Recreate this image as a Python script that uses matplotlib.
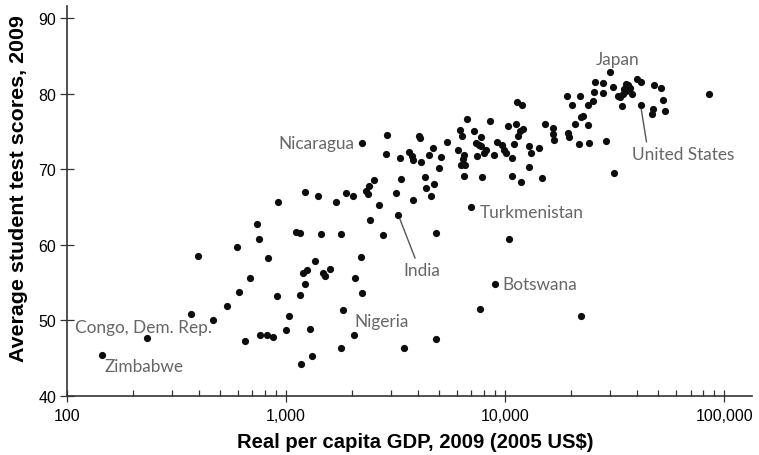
import numpy as np
import matplotlib
matplotlib.use("Agg")
import matplotlib.pyplot as plt

# Real per capita GDP, 2009 (2005 US$) and average student test scores
gdp = [
    145, 231, 369, 396, 462, 537, 596, 611, 648, 685,
    737, 754, 757, 817, 829, 874, 905, 918, 1000, 1035,
    1114, 1153, 1153, 1171, 1193, 1214, 1244, 1217, 1280, 1314,
    1349, 1400, 1448, 1468, 1503, 1580, 1687, 1774, 1774, 1817,
    1875, 2013, 2037, 2065, 2199, 2207, 2228, 2306, 2356, 2399,
    2505, 2405, 2645, 2754, 2857, 2885, 3178, 3252, 3318, 3345,
    3446, 3625, 3741, 3810, 3802, 4036, 4093, 4112, 4305, 4355,
    4487, 4592, 4677, 4720, 4808, 4819, 4980, 5070, 5398, 6113,
    6197, 6314, 6497, 6383, 6281, 6565, 6454, 6683, 6953, 7161,
    7359, 7586, 7727, 7396, 7745, 7653, 7834, 8206, 8035, 8511,
    8850, 8954, 9141, 9689, 9863, 10030, 10250, 10380, 10715, 10715,
    10965, 11140, 11370, 11650, 11995, 11350, 11890, 11775, 12845, 13070,
    12845, 14260, 14730, 15140, 16520, 16520, 16630, 19190, 20060, 19280,
    19430, 20700, 21880, 21730, 22190, 22650, 22130, 23730, 23940, 23990,
    25000, 25290, 25760, 27870, 27970, 28700, 30140, 31050, 31270, 32650,
    33340, 34200, 34590, 34750, 35480, 35730, 36380, 37000, 37670, 39810,
    41500, 41420, 46560, 47070, 47780, 51170, 52600, 53460, 85310,
]
scores = [
    45.4, 47.7, 50.8, 58.5, 50.0, 51.9, 59.7, 53.7, 47.2, 55.6,
    62.8, 60.7, 48.0, 48.1, 58.2, 47.8, 53.2, 65.7, 48.7, 50.5,
    61.7, 61.5, 53.3, 44.2, 56.2, 54.8, 56.7, 67.0, 48.8, 45.3,
    57.8, 66.5, 61.4, 56.2, 55.8, 56.8, 65.7, 61.4, 46.3, 51.3,
    66.9, 66.5, 48.1, 55.6, 58.4, 73.4, 53.6, 67.1, 66.7, 67.8,
    68.5, 63.3, 65.3, 61.3, 72.0, 74.5, 66.8, 63.9, 71.5, 68.7,
    46.3, 72.3, 71.8, 71.2, 65.9, 74.4, 74.1, 71.0, 68.9, 67.5,
    71.9, 66.4, 72.8, 68.0, 47.5, 61.5, 70.2, 71.6, 73.6, 72.5,
    75.2, 74.4, 71.9, 71.3, 70.5, 70.5, 69.1, 76.6, 65.0, 75.1,
    73.4, 73.2, 73.0, 71.7, 74.2, 51.5, 68.9, 72.5, 72.2, 76.4,
    71.9, 54.8, 73.6, 73.2, 72.6, 72.1, 75.7, 60.8, 71.5, 69.1,
    73.3, 76.0, 74.4, 75.1, 75.3, 78.9, 78.5, 68.3, 73.0, 72.2,
    70.3, 72.8, 68.8, 76.0, 75.5, 74.7, 73.8, 79.7, 78.5, 74.8,
    74.3, 76.0, 79.7, 73.3, 50.5, 77.0, 76.9, 75.9, 78.5, 73.5,
    79.0, 80.2, 81.5, 81.4, 80.1, 73.7, 82.8, 80.9, 69.5, 79.7,
    79.5, 78.4, 80.0, 80.6, 81.3, 80.4, 81.1, 80.8, 80.0, 81.9,
    81.5, 78.5, 77.3, 78.0, 81.2, 80.7, 79.1, 77.7, 79.9,
]

# labelled countries: (name, gdp, score, text offset in points, ha, leader relpos)
labels = [
    ("Nicaragua", 2207, 73.4, (-5, 0), "right", None),
    ("Japan", 30140, 82.8, (5.4, 9.9), "center", None),
    ("United States", 41420, 78.5, (-6.3, -35.3), "left", (0.15, 1.0)),
    ("Turkmenistan", 6953, 65.0, (6.5, -3.7), "left", None),
    ("India", 3252, 63.9, (16.6, -39.6), "center", (0.37, 1.0)),
    ("Botswana", 8954, 54.8, (5.5, 0), "left", None),
    ("Nigeria", 2037, 48.1, (0.6, 9.4), "left", None),
    ("Congo, Dem. Rep.", 231, 47.7, (-51.3, 7.6), "left", None),
    ("Zimbabwe", 145, 45.4, (1.4, -8.3), "left", None),
]

plt.rcParams["font.family"] = ["Liberation Sans", "DejaVu Sans"]

fig = plt.figure(figsize=(7.59, 4.56), dpi=100)
ax = fig.add_axes([0.0883, 0.130, 0.9025, 0.8546])

ax.scatter(gdp, scores, s=27, color="#0d0d0d", linewidths=0, zorder=3)

for name, x, y, off, ha, rel in labels:
    kw = {}
    if rel is not None:
        kw["arrowprops"] = dict(arrowstyle="-", color="#555555", lw=1.0,
                                relpos=rel, shrinkA=1, shrinkB=3)
    ax.annotate(name, xy=(x, y), xytext=off, textcoords="offset points",
                ha=ha, va="center", fontsize=12.4, color="#666666",
                family=["Lato", "DejaVu Sans"], **kw)

ax.set_xscale("log")
ax.set_xlim(100, 133600)
ax.set_ylim(40, 91.6)
ax.set_yticks([40, 50, 60, 70, 80, 90])
ax.set_xticks([100, 1000, 10000, 100000])
ax.set_xticklabels(["100", "1,000", "10,000", "100,000"])

for side in ["top", "right"]:
    ax.spines[side].set_visible(False)
for side in ["left", "bottom"]:
    ax.spines[side].set_color("#333333")
    ax.spines[side].set_linewidth(1.2)

ax.tick_params(axis="x", which="major", direction="inout", length=9,
               width=0.9, color="#333333", labelsize=11.5, pad=4.5)
ax.tick_params(axis="x", which="minor", direction="in", length=4.5,
               width=0.9, color="#333333")
ax.tick_params(axis="y", which="major", direction="inout", length=9.5,
               width=0.9, color="#333333", labelsize=11.5, pad=3)

ax.set_xlabel("Real per capita GDP, 2009 (2005 US$)", fontsize=14.6,
              fontweight="bold", va="center")
ax.set_ylabel("Average student test scores, 2009", fontsize=15.4,
              fontweight="bold", va="center")
ax.xaxis.set_label_coords(0.508, -0.118)
ax.yaxis.set_label_coords(-0.0715, 0.533)

fig.savefig("out.png", dpi=100)
